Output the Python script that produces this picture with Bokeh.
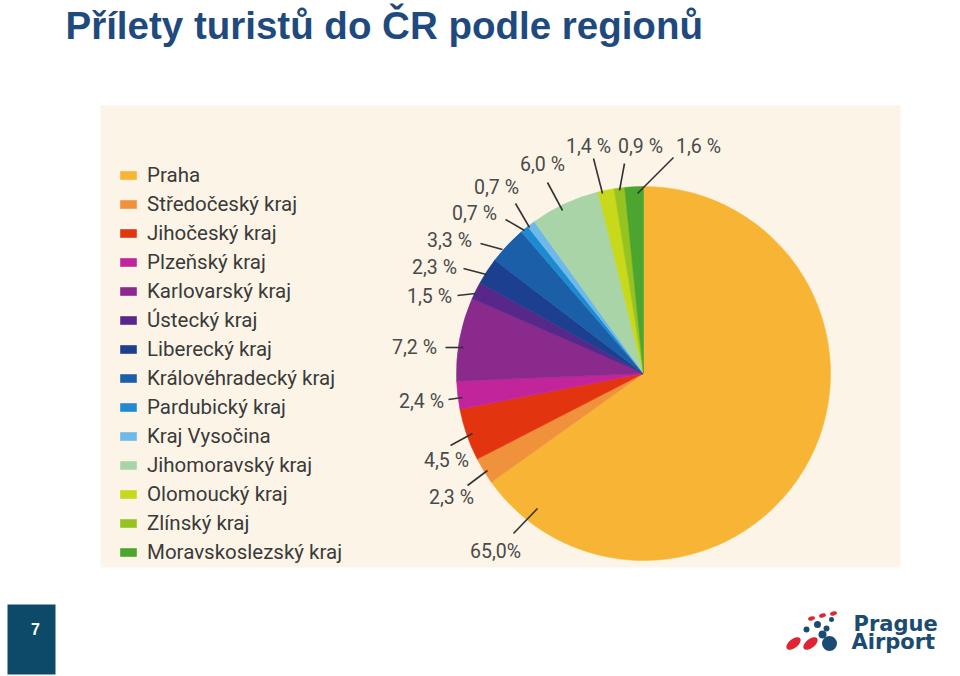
import math
from bokeh.plotting import figure
from bokeh.models import Range1d, Label, Legend, LegendItem, ColumnDataSource
from bokeh.embed import file_html
from bokeh.resources import INLINE
from bokeh.core.properties import value

# ---------------- data ----------------
title_text = "Přílety turistů do ČR podle regionů"
regions = [
    "Praha", "Středočeský kraj", "Jihočeský kraj", "Plzeňský kraj",
    "Karlovarský kraj", "Ústecký kraj", "Liberecký kraj",
    "Královéhradecký kraj", "Pardubický kraj", "Kraj Vysočina",
    "Jihomoravský kraj", "Olomoucký kraj", "Zlínský kraj",
    "Moravskoslezský kraj",
]
shares = [65.0, 2.3, 4.5, 2.4, 7.2, 1.5, 2.3, 3.3, 0.7, 0.7, 6.0, 1.4, 0.9, 1.6]
colors = [
    "#F8B535", "#F0913B", "#E2340F", "#C2259B", "#8A2A8D", "#57288A",
    "#1D3F8F", "#1A5FA8", "#1F8AD2", "#6DB9E9", "#A9D4A7", "#C8D81A",
    "#97C321", "#4BA52F",
]
page_number = "7"

# ---------------- layout (pixels, y measured from top) ----------------
W, H = 960, 676
def Y(v):
    return H - v

pie_cx, pie_cy, pie_r = 643, 373, 187
# label centre and leader line (x0, y0, x1, y1) per slice, annotation layout
label_pos = [
    (495, 551), (451, 497), (446, 460), (421, 401), (414, 347), (429, 296),
    (434, 267), (449, 240), (474, 213), (496, 187), (542, 164), (588, 146),
    (640, 146), (698, 146),
]
leader = [
    (513, 533, 537, 508), (467, 485, 487, 470), (450, 445, 472, 433),
    (448, 399, 462, 397), (445, 347, 463, 347), (457, 295, 475, 293),
    (463, 268, 486, 274), (480, 243, 502, 249), (505, 219, 524, 230),
    (515, 203, 529, 227), (547, 182, 562, 210), (593, 158, 602, 193),
    (624, 163, 619, 190), (673, 157, 637, 193),
]

p = figure(width=W, height=H, output_backend="svg", toolbar_location=None,
           x_range=Range1d(0, W), y_range=Range1d(0, H),
           x_axis_location=None, y_axis_location=None, min_border=0,
           background_fill_color="white", border_fill_color="white")
p.outline_line_color = None
p.xgrid.visible = False
p.ygrid.visible = False

# cream panel
p.quad(left=100, right=900, top=Y(105), bottom=Y(567),
       fill_color="#FCF5E7", line_color=None)

# pie wedges from data
total = sum(shares)
starts, ends = [], []
cum = 0.0
for v in shares:
    starts.append(math.pi / 2 - 2 * math.pi * cum / total)
    cum += v
    ends.append(math.pi / 2 - 2 * math.pi * cum / total)

src = ColumnDataSource(dict(
    x=[pie_cx] * len(shares), y=[Y(pie_cy)] * len(shares),
    start=starts, end=ends, color=colors, region=regions, share=shares,
))
wedges = p.wedge(x="x", y="y", radius=pie_r, start_angle="start",
                 end_angle="end", direction="clock", fill_color="color",
                 line_color="color", line_width=0.6, source=src)

# percentage labels
fmt = [("%.1f" % v).replace(".", ",") + (" %" if v < 10 else "%") for v in shares]
p.text(x=[lp[0] for lp in label_pos], y=[Y(lp[1]) for lp in label_pos],
       text=fmt, text_align="center", text_baseline="middle",
       text_font=value("Roboto"), text_font_size="19.5px", text_color="#4A4A4A")
p.segment(x0=[l[0] for l in leader], y0=[Y(l[1]) for l in leader],
          x1=[l[2] for l in leader], y1=[Y(l[3]) for l in leader],
          line_color="#333333", line_width=1.6)

# legend
items = [LegendItem(label=r, renderers=[wedges], index=i) for i, r in enumerate(regions)]
legend = Legend(items=items, location=(118, Y(564)), padding=0, margin=0,
                spacing=5, label_height=24, glyph_height=10, glyph_width=20,
                label_standoff=9, label_text_font="Roboto",
                label_text_font_size="20.5px", label_text_color="#3A3A3A",
                background_fill_alpha=0, border_line_alpha=0)
p.add_layout(legend)

# title
p.add_layout(Label(x=65, y=Y(25), text=title_text, text_font="Liberation Sans",
                   text_font_style="bold", text_font_size="38.5px",
                   text_color="#1F4A7E", text_baseline="middle"))

# page number box
p.quad(left=7, right=55, top=Y(604), bottom=Y(674), fill_color="#0D4A6A",
       line_color=None)
p.add_layout(Label(x=35, y=Y(628), text=page_number, text_font="Liberation Sans",
                   text_font_style="bold", text_font_size="16px",
                   text_color="white", text_align="center",
                   text_baseline="middle"))

# logo
p.ellipse(x=[793, 810], y=[Y(643), Y(643)], width=9, height=17,
          angle=-0.9, fill_color="#E02436", line_color=None)
p.ellipse(x=[811, 822, 833], y=[Y(618), Y(615), Y(613)], width=7, height=4,
          angle=0.3, fill_color="#E02436", line_color=None)
p.scatter(x=[806, 817, 826, 831], y=[Y(629), Y(624), Y(628), Y(619)],
          size=[6, 7, 6, 5], fill_color="#1B4B72", line_color=None)
p.scatter(x=[822, 829], y=[Y(634), Y(643)], size=[8, 15],
          fill_color="#1B4B72", line_color=None)
p.add_layout(Label(x=853, y=Y(623), text="Prague", text_font="DejaVu Sans",
                   text_font_style="bold", text_font_size="21px",
                   text_color="#1B4B72", text_baseline="middle"))
p.add_layout(Label(x=851, y=Y(641), text="Airport", text_font="DejaVu Sans",
                   text_font_style="bold", text_font_size="21px",
                   text_color="#1B4B72", text_baseline="middle"))

open("out.html", "w").write(file_html(p, INLINE))
